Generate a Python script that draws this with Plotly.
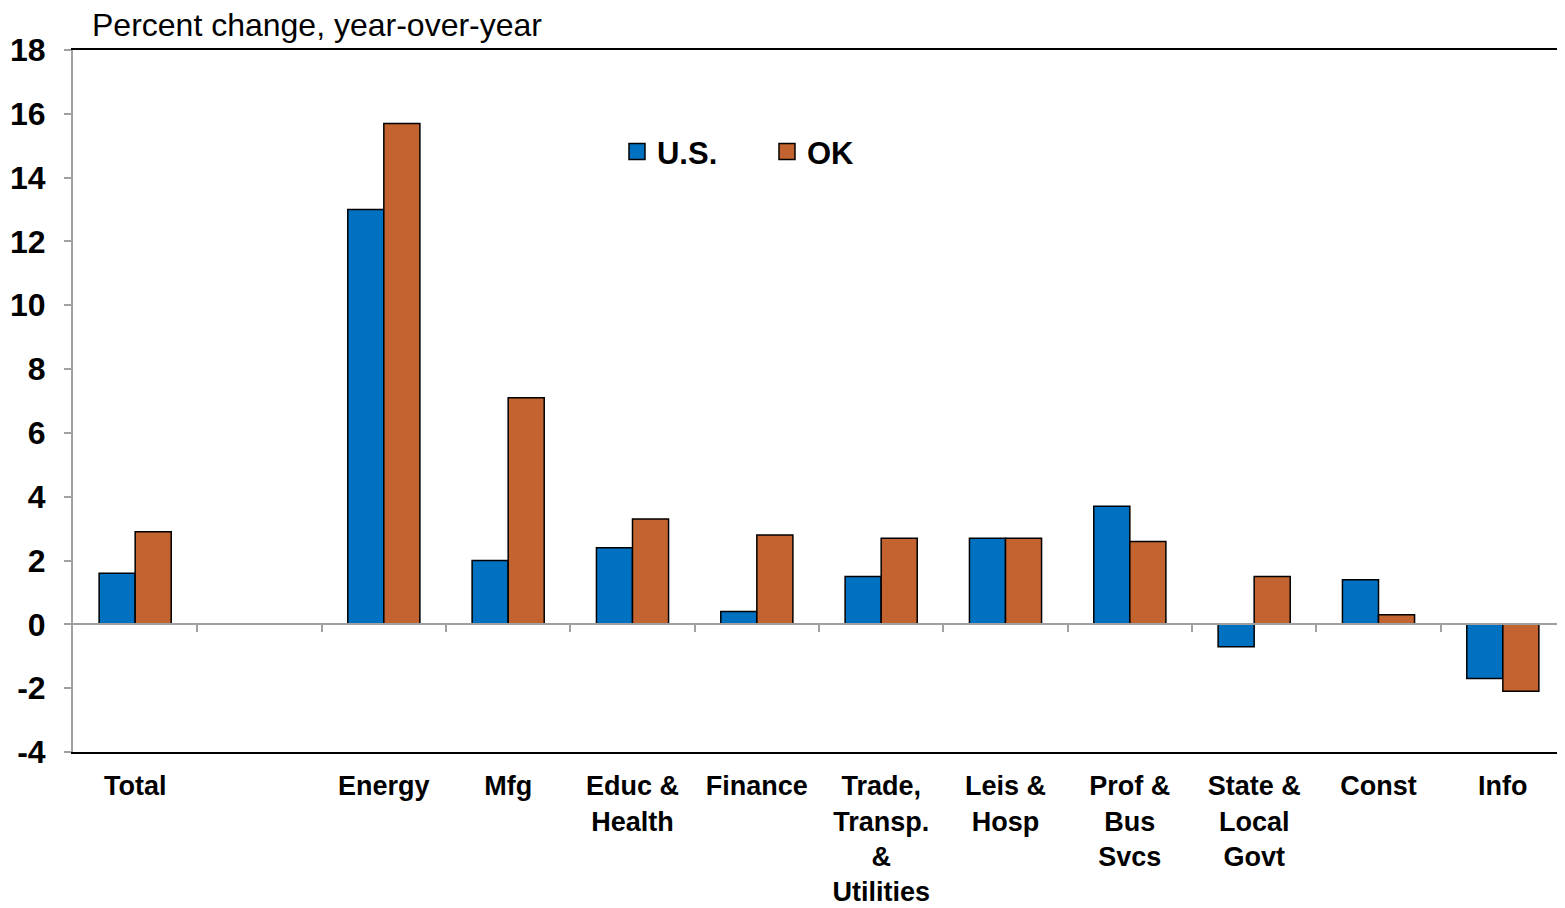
import plotly.graph_objects as go

categories = ["Total", " ", "Energy", "Mfg", "Educ &<br>Health", "Finance",
              "Trade,<br>Transp.<br>&<br>Utilities", "Leis &<br>Hosp",
              "Prof &<br>Bus<br>Svcs", "State &<br>Local<br>Govt", "Const", "Info"]
us_values = [1.6, None, 13.0, 2.0, 2.4, 0.4, 1.5, 2.7, 3.7, -0.7, 1.4, -1.7]
ok_values = [2.9, None, 15.7, 7.1, 3.3, 2.8, 2.7, 2.7, 2.6, 1.5, 0.3, -2.1]
y_ticks = list(range(-4, 19, 2))
y_tick_text = [str(v) for v in y_ticks]

FONT = "Liberation Sans, Arial, sans-serif"
BLUE = "#0070C0"
ORANGE = "#C3632F"
GRAY = "#A0A0A0"

fig = go.Figure()
fig.add_trace(go.Bar(x=categories, y=us_values, name="U.S.", showlegend=False,
                     legendgroup="us",
                     marker=dict(color=BLUE, line=dict(color="black", width=1.5))))
fig.add_trace(go.Bar(x=categories, y=ok_values, name="OK", showlegend=False,
                     legendgroup="ok",
                     marker=dict(color=ORANGE, line=dict(color="black", width=1.5))))
# legend entries with larger square swatches
fig.add_trace(go.Scatter(x=[None], y=[None], mode="markers", name="U.S.", legendgroup="us",
                         marker=dict(symbol="square", size=18, color=BLUE,
                                     line=dict(color="black", width=1.5)),
                         hoverinfo="skip"))
fig.add_trace(go.Scatter(x=[None], y=[None], mode="markers", name="OK", legendgroup="ok",
                         marker=dict(symbol="square", size=18, color=ORANGE,
                                     line=dict(color="black", width=1.5)),
                         hoverinfo="skip"))
# helper trace so the zero-line tick axis is drawn
fig.add_trace(go.Scatter(x=[None], y=[None], xaxis="x2", showlegend=False,
                         hoverinfo="skip"))

n = len(categories)
boundaries = [i + 0.5 for i in range(n - 1)]
zero_pos = (0 - y_ticks[0]) / (y_ticks[-1] - y_ticks[0])

# page body adds an 8px margin, so the figure is 8px smaller than the window
fig.update_layout(
    width=1557, height=900,
    margin=dict(l=65, r=0, t=42, b=156),
    paper_bgcolor="white", plot_bgcolor="white",
    barmode="group", bargap=0.42, bargroupgap=0,
    font=dict(family=FONT, color="black"),
    showlegend=True,
    legend=dict(orientation="h", x=0.3646, y=0.855, xanchor="left", yanchor="middle",
                font=dict(family=FONT, size=31, weight="bold"),
                bgcolor="rgba(0,0,0,0)", itemwidth=30, entrywidth=105,
                tracegroupgap=0),
    xaxis=dict(type="category", range=[-0.5, n - 0.5], showline=True,
               linecolor="black", linewidth=2, mirror=True, ticks="",
               showgrid=False, tickfont=dict(family=FONT, size=27, weight="bold"),
               ticklabelstandoff=9, automargin=False),
    xaxis2=dict(overlaying="x", anchor="free", position=zero_pos, side="bottom",
                range=[-0.5, n - 0.5], tickvals=boundaries, ticks="outside",
                ticklen=7, tickwidth=2, tickcolor=GRAY, showticklabels=False,
                showline=True, linecolor=GRAY, linewidth=2, showgrid=False,
                zeroline=False, automargin=False),
    yaxis=dict(range=[y_ticks[0], y_ticks[-1]], tickvals=y_ticks, ticktext=y_tick_text,
               showline=True,
               linecolor=GRAY, linewidth=2, ticks="outside", ticklen=7,
               tickwidth=2, tickcolor=GRAY, showgrid=False, zeroline=False,
               tickfont=dict(family=FONT, size=32, weight="bold"),
               ticklabelstandoff=12, automargin=False),
    annotations=[dict(text="Percent change, year-over-year", xref="paper", yref="paper",
                      x=0.0114, y=1, xanchor="left", yanchor="middle", yshift=25,
                      showarrow=False, font=dict(family=FONT, size=32))],
)

fig.write_html("out.html")
